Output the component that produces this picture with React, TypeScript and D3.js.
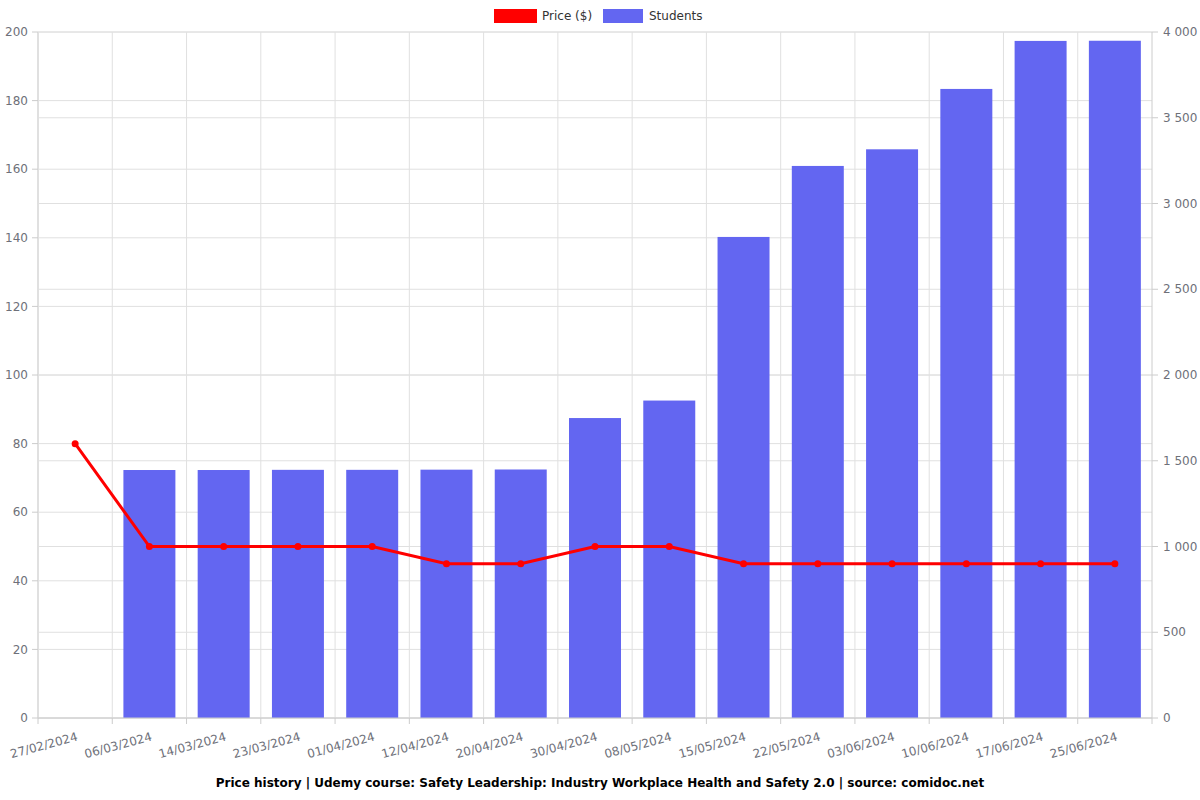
import React from "react";
import * as d3 from "d3";

const dates = ["27/02/2024","06/03/2024","14/03/2024","23/03/2024","01/04/2024","12/04/2024","20/04/2024","30/04/2024","08/05/2024","15/05/2024","22/05/2024","03/06/2024","10/06/2024","17/06/2024","25/06/2024"];
const prices = [79.99,49.99,49.99,49.99,49.99,44.99,44.99,49.99,49.99,44.99,44.99,44.99,44.99,44.99,44.99];
const students: (number | null)[] = [null,1446,1446,1447,1447,1448,1449,1749,1851,2805,3219,3316,3668,3948,3949];
const leftTicks = [0,20,40,60,80,100,120,140,160,180,200];
const rightTicks = [0,500,1000,1500,2000,2500,3000,3500,4000];
const title = "Price history | Udemy course: Safety Leadership: Industry Workplace Health and Safety 2.0 | source: comidoc.net";

const W = 1200, H = 800;
const L = 38, R = 1152, T = 32, B = 718;
const FONT = "DejaVu Sans, sans-serif";

export default function App() {
  const x = d3.scaleBand<string>().domain(dates).range([L, R]).paddingInner(0).paddingOuter(0);
  const bw = x.bandwidth();
  const barW = bw * 0.7;
  const yL = d3.scaleLinear().domain([0, 200]).range([B, T]);
  const yR = d3.scaleLinear().domain([0, 4000]).range([B, T]);
  const cx = (d: string) => (x(d) as number) + bw / 2;
  const line = d3.line<number>().x((_, i) => cx(dates[i])).y((v) => yL(v));
  const fmtR = (v: number) => (v >= 1000 ? d3.format(",")(v).replace(/,/g, " ") : String(v));

  return (
    <svg width={W} height={H} style={{ position: "absolute", left: 0, top: 0, background: "#fff" }} fontFamily={FONT}>
      {/* grid */}
      {leftTicks.map((t) => (
        <line key={"gl" + t} x1={L} x2={R} y1={yL(t)} y2={yL(t)} stroke="#e0e0e0" strokeWidth={1} />
      ))}
      {rightTicks.map((t) => (
        <line key={"gr" + t} x1={L} x2={R} y1={yR(t)} y2={yR(t)} stroke="#e0e0e0" strokeWidth={1} />
      ))}
      {dates.map((d, i) => (
        <line key={"gv" + i} x1={(x(d) as number)} x2={(x(d) as number)} y1={T} y2={B} stroke="#e0e0e0" strokeWidth={1} />
      ))}
      <line x1={R} x2={R} y1={T} y2={B} stroke="#ccc" />
      <line x1={L} x2={L} y1={T} y2={B} stroke="#e0e0e0" strokeWidth={2} />
      {/* bars */}
      {students.map((v, i) =>
        v == null ? null : (
          <rect key={"b" + i} x={cx(dates[i]) - barW / 2} y={yR(v)} width={barW} height={B - yR(v)} fill="#6366f1" />
        )
      )}
      {/* x axis */}
      <line x1={L} x2={R} y1={B} y2={B} stroke="#ccc" />
      {dates.map((d, i) => (
        <line key={"xt" + i} x1={(x(d) as number)} x2={(x(d) as number)} y1={B} y2={B + 6} stroke="#ccc" />
      ))}
      <line x1={R} x2={R} y1={B} y2={B + 6} stroke="#ccc" />
      {dates.map((d, i) => (
        <text key={"xl" + i} transform={`translate(${cx(d) + 1},${B + 14}) rotate(-15)`} textAnchor="end" dy="0.71em" fontSize={12} fill="#6e7079">
          {d}
        </text>
      ))}
      {/* left axis */}
      {leftTicks.map((t) => (
        <g key={"lt" + t}>
          <line x1={L - 6} x2={L} y1={yL(t)} y2={yL(t)} stroke="#ccc" />
          <text x={L - 10} y={yL(t)} dy="0.35em" textAnchor="end" fontSize={12} fill="#6e7079">{t}</text>
        </g>
      ))}
      {/* right axis */}
      {rightTicks.map((t) => (
        <g key={"rt" + t}>
          <line x1={R} x2={R + 6} y1={yR(t)} y2={yR(t)} stroke="#ccc" />
          <text x={R + 11} y={yR(t)} dy="0.35em" textAnchor="start" fontSize={12} fill="#6e7079">{fmtR(t)}</text>
        </g>
      ))}
      {/* price line */}
      <path d={line(prices) || ""} fill="none" stroke="#ff0000" strokeWidth={3} />
      {prices.map((v, i) => (
        <circle key={"p" + i} cx={cx(dates[i])} cy={yL(v)} r={3.5} fill="#ff0000" />
      ))}
      {/* legend */}
      <rect x={494} y={9} width={43} height={14} fill="#ff0000" />
      <text x={542} y={16} dy="0.35em" fontSize={12} fill="#333">Price ($)</text>
      <rect x={603} y={9} width={40} height={14} fill="#6366f1" />
      <text x={649} y={16} dy="0.35em" fontSize={12} fill="#333">Students</text>
      {/* title */}
      <text x={600} y={783} dy="0.35em" textAnchor="middle" fontSize={12} fontWeight="bold" fill="#000">{title}</text>
    </svg>
  );
}
